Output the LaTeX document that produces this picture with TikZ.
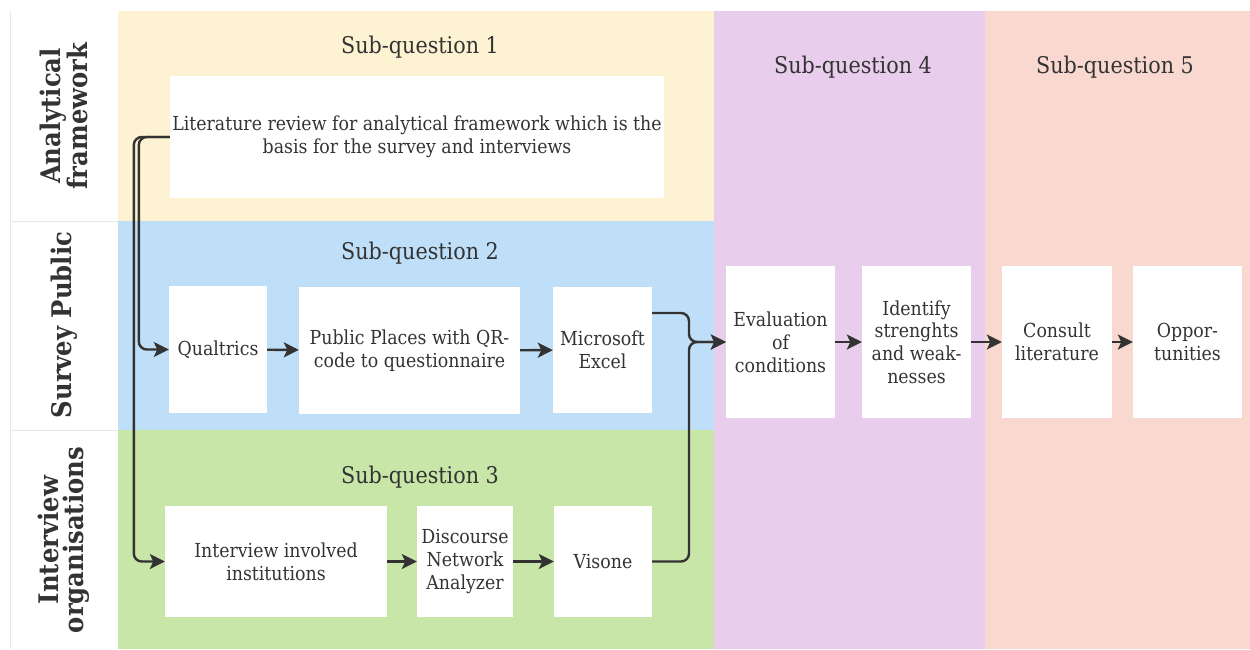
\documentclass[tikz,border=0pt]{standalone}
\usepackage{fontspec}
\setmainfont{DejaVu Serif Condensed}
\usetikzlibrary{arrows.meta}

\definecolor{bandYellow}{HTML}{FDF2D2}
\definecolor{bandBlue}{HTML}{BEDFF7}
\definecolor{bandGreen}{HTML}{C8E6A8}
\definecolor{bandPurple}{HTML}{E8CDED}
\definecolor{bandSalmon}{HTML}{F9D8D0}
\definecolor{inkGrey}{HTML}{333333}
\definecolor{ruleGrey}{HTML}{E8E8E8}

\tikzset{
  stepbox/.style={fill=white, draw=none, inner sep=0pt, align=center,
    text=inkGrey, font=\fontsize{19.3}{22.8}\selectfont},
  heading/.style={text=inkGrey, font=\fontsize{23}{27}\selectfont, inner sep=0pt},
  rowlabel/.style={text=inkGrey, rotate=90, align=center, inner sep=0pt,
    font=\bfseries\fontsize{27}{25}\selectfont},
  flow/.style={draw=inkGrey, line width=2.4pt, rounded corners=8pt,
    -{Stealth[length=15pt,width=15pt,inset=3.5pt]}},
}

\begin{document}
\begin{tikzpicture}[x=1pt,y=-1pt]
\useasboundingbox (0,0) rectangle (1250,649);
\fill[white] (0,0) rectangle (1250,649);

% coloured bands
\fill[bandYellow] (118,11) rectangle (714,221);
\fill[bandBlue]   (118,221) rectangle (714,430);
\fill[bandGreen]  (118,430) rectangle (714,649);
\fill[bandPurple] (714,11) rectangle (985,649);
\fill[bandSalmon] (985,11) rectangle (1250,649);

% row label column rules
\draw[ruleGrey, line width=1pt] (10,11) -- (10,649);
\draw[ruleGrey, line width=1pt] (10,221) -- (118,221);
\draw[ruleGrey, line width=1pt] (10,430) -- (118,430);

% row labels
\node[rowlabel] (lblA) at (64,116) {Analytical\\framework};
\node[rowlabel] (lblS) at (64,325) {Survey Public};
\node[rowlabel] (lblI) at (64,540) {Interview\\organisations};

% headings
\node[heading] (h1) at (420,47)  {Sub-question 1};
\node[heading] (h2) at (420,253) {Sub-question 2};
\node[heading] (h3) at (420,477) {Sub-question 3};
\node[heading] (h4) at (853,67)  {Sub-question 4};
\node[heading] (h5) at (1115,67) {Sub-question 5};

% step boxes
\node[stepbox, minimum width=494pt, minimum height=122pt] (lit) at (417,137)
  {Literature review for analytical framework which is the\\basis for the survey and interviews};
\node[stepbox, minimum width=98pt, minimum height=127pt] (qual) at (218,349.5) {Qualtrics};
\node[stepbox, minimum width=221pt, minimum height=127pt] (pub) at (409.5,350.5)
  {Public Places with QR-\\code to questionnaire};
\node[stepbox, minimum width=99pt, minimum height=126pt] (excel) at (602.5,350)
  {Microsoft\\Excel};
\node[stepbox, minimum width=222pt, minimum height=111pt] (interv) at (276,561.5)
  {Interview involved\\institutions};
\node[stepbox, minimum width=96pt, minimum height=111pt] (disc) at (465,561.5)
  {Discourse\\Network\\Analyzer};
\node[stepbox, minimum width=98pt, minimum height=111pt] (vis) at (603,561.5) {Visone};
\node[stepbox, minimum width=109pt, minimum height=152pt] (eval) at (780.5,342)
  {Evaluation\\of\\conditions};
\node[stepbox, minimum width=109pt, minimum height=152pt] (ident) at (916.5,342)
  {Identify\\strenghts\\and weak-\\nesses};
\node[stepbox, minimum width=110pt, minimum height=152pt] (cons) at (1057,342)
  {Consult\\literature};
\node[stepbox, minimum width=109pt, minimum height=152pt] (opp) at (1187.5,342)
  {Oppor-\\tunities};

% merge point in front of the evaluation step
\coordinate (merge) at (689,342);

% connectors
\draw[flow] (lit.west) -- ++(-31,0) |- (qual.west);
\draw[flow] (lit.west) -- ++(-36,0) |- (interv.west);
\draw[flow] (qual) -- (pub);
\draw[flow] (pub) -- (excel);
\draw[flow] (interv) -- (disc);
\draw[flow] (disc) -- (vis);
\draw[flow] ([yshift=37pt]excel.east) -| (merge) -- (eval.west);
\draw[flow] (vis.east) -| (merge) -- (eval.west);
\draw[flow] (eval) -- (ident);
\draw[flow] (ident) -- (cons);
\draw[flow] (cons) -- (opp);
\end{tikzpicture}
\end{document}
